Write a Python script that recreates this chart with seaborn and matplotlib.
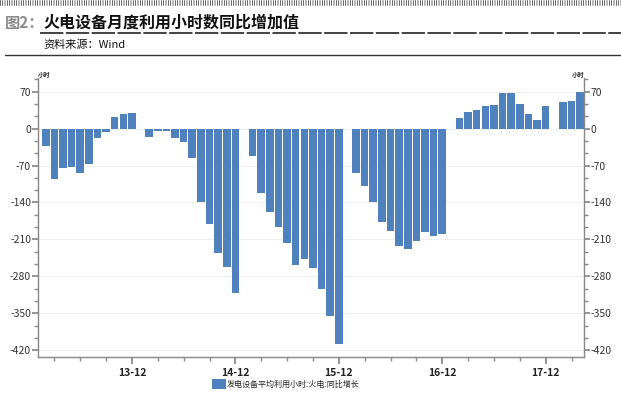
import numpy as np
import pandas as pd
import matplotlib
matplotlib.use("Agg")
import matplotlib.pyplot as plt
import seaborn as sns
from matplotlib.lines import Line2D
from matplotlib.patches import Patch

sns.set_theme(style="white")
plt.rcParams['font.family'] = ['Noto Sans CJK SC', 'DejaVu Sans']
plt.rcParams['axes.unicode_minus'] = False

nan = np.nan
# monthly YoY change (hours); January not published (combined with February)
v2013 = [nan, -33, -96, -75, -73, -84, -68, -18, -7, 23, 28, 30]
v2014 = [nan, -15, -4, -4, -18, -26, -56, -139, -180, -235, -262, -312]
v2015 = [nan, -52, -122, -158, -187, -216, -258, -248, -264, -304, -355, -409]
v2016 = [nan, -84, -109, -139, -177, -194, -222, -228, -213, -196, -204, -199]
v2017 = [nan, 21, 32, 36, 43, 45, 68, 68, 47, 27, 17, 43]
v2018 = [nan, 51, 53, 70]

years = [2013, 2014, 2015, 2016, 2017, 2018]
series = [v2013, v2014, v2015, v2016, v2017, v2018]
months = [f"{y % 100:02d}-{m + 1:02d}" for y, vals in zip(years, series) for m in range(len(vals))]
values = [v for vals in series for v in vals]

xtick_labels = ["13-12", "14-12", "15-12", "16-12", "17-12"]
yticks = [70, 0, -70, -140, -210, -280, -350, -420]
ytick_labels = ["70", "0", "-70", "-140", "-210", "-280", "-350", "-420"]
legend_label = "发电设备平均利用小时:火电:同比增长"

df = pd.DataFrame({"month": months, "value": values}).dropna()

W, H = 621, 394
fig = plt.figure(figsize=(W / 100, H / 100), dpi=100)
fig.patch.set_facecolor("white")
ax = fig.add_axes([38 / W, 1 - 357 / H, (584 - 38) / W, (357 - 78) / H])

bar_color = "#4F81BD"
sns.barplot(data=df, x="month", y="value", order=months, color=bar_color,
            saturation=1, width=0.88, ax=ax, errorbar=None,
            linewidth=0, edgecolor="none")

ax.set_xlim(0.1, len(months) - 0.55)
ax.set_ylim(-433, 96)
ax.set_xlabel("")
ax.set_ylabel("")

# y ticks
ax.set_yticks(yticks)
ax.set_yticklabels(ytick_labels)
ax.set_yticks([k * 70 / 3 for k in range(-18, 5) if k % 3 != 0], minor=True)
ax.tick_params(axis="y", which="both", left=True, right=True, labelleft=True,
               labelright=True, direction="out", color="#888888", labelsize=7.5,
               labelcolor="#333333", pad=1)
ax.tick_params(axis="y", which="major", length=4)
ax.tick_params(axis="y", which="minor", length=3)

# x ticks
major_pos = [months.index(l) for l in xtick_labels]
ax.set_xticks(major_pos)
ax.set_xticklabels(xtick_labels, fontweight="bold")
ax.set_xticks([p for p in range(2, len(months), 3) if p not in major_pos], minor=True)
ax.tick_params(axis="x", which="both", bottom=True, direction="out",
               color="#888888", labelsize=7.5, labelcolor="#222222", pad=3)
ax.tick_params(axis="x", which="major", length=5)
ax.tick_params(axis="x", which="minor", length=3)

ax.grid(axis="y", which="major", color="#efefef", linewidth=0.8)
ax.set_axisbelow(True)
for s in ["left", "right", "bottom"]:
    ax.spines[s].set_color("#888888")
    ax.spines[s].set_linewidth(1.0)
ax.spines["top"].set_visible(False)

# unit labels
fig.text(38 / W, 1 - 75 / H, "小时", fontsize=4.5, fontweight="bold", ha="left", va="center", color="#222222")
fig.text(584 / W, 1 - 75 / H, "小时", fontsize=4.5, fontweight="bold", ha="right", va="center", color="#222222")

# legend
fig.legend(handles=[Patch(facecolor=bar_color, edgecolor="none", label=legend_label)],
           loc="center left", bbox_to_anchor=(212 / W, 1 - 384 / H), frameon=False,
           fontsize=5.8, handlelength=1.7, handleheight=1.5, handletextpad=0.15,
           borderaxespad=0, borderpad=0)

# header
fig.text(5 / W, 1 - 23 / H, "图2：", fontsize=11, fontweight="bold", color="#8a8a8a", ha="left", va="center")
fig.text(43 / W, 1 - 23 / H, "火电设备月度利用小时数同比增加值", fontsize=11.5, fontweight="heavy",
         color="#111111", ha="left", va="center")
fig.text(43 / W, 1 - 45 / H, "资料来源：Wind", fontsize=8, color="#111111", ha="left", va="center")

fig.add_artist(Line2D([0, 1], [1 - 3 / H] * 2, transform=fig.transFigure, color="#222222",
                      linewidth=4, linestyle=(0, (0.12, 0.3))))
fig.add_artist(Line2D([40 / W, 1], [1 - 33 / H] * 2, transform=fig.transFigure, color="#222222",
                      linewidth=1.2, linestyle=(0, (14, 1.5))))
fig.add_artist(Line2D([5 / W, 1], [1 - 55 / H] * 2, transform=fig.transFigure, color="#333333",
                      linewidth=1.0))

fig.savefig("out.png", dpi=100)
